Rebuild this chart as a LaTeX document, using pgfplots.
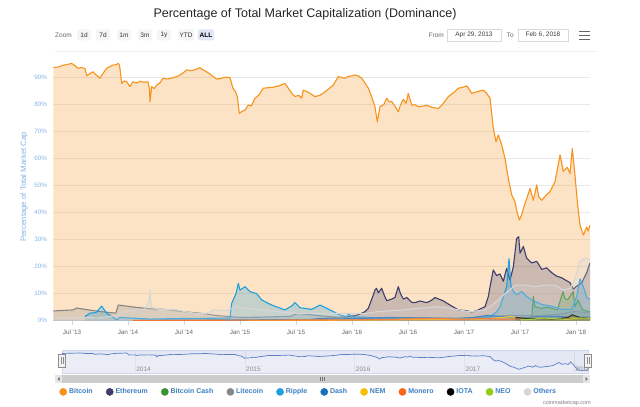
\documentclass[border=0pt]{standalone}
\usepackage{pgfplots}
\pgfplotsset{compat=1.18}
\usepackage{pgfplotstable}
\usepackage{fontspec}
\setmainfont{Liberation Sans}

\definecolor{cbtc}{HTML}{F7931A}
\definecolor{ceth}{HTML}{3E3F6E}
\definecolor{cbch}{HTML}{3C9232}
\definecolor{cltc}{HTML}{878787}
\definecolor{cxrp}{HTML}{1E9FE0}
\definecolor{cdash}{HTML}{1C6FB8}
\definecolor{cnem}{HTML}{F8BE00}
\definecolor{cxmr}{HTML}{FA6414}
\definecolor{ciota}{HTML}{000000}
\definecolor{cneo}{HTML}{96CC17}
\definecolor{coth}{HTML}{D6D6D6}
\definecolor{tickblue}{HTML}{86B4E6}
\definecolor{legblue}{HTML}{3D7FC1}
\definecolor{gridc}{HTML}{E9E9E9}
\definecolor{axisc}{HTML}{CCD6EB}
\definecolor{txtgray}{HTML}{666666}

% Bitcoin dominance, x = months since Jan 2013
\pgfplotstableread{
m v
4.0 93.8
4.6 94.0
5.0 94.6
5.4 94.8
5.97 95.3
6.3 94.5
6.64 93.5
7.0 93.8
7.39 93.4
7.58 90.7
7.9 91.5
8.25 92.2
8.6 91.0
9.0 89.8
9.3 91.5
9.72 93.5
10.0 94.0
10.39 94.7
10.7 94.8
10.96 95.3
11.1 94.5
11.33 87.9
11.6 88.8
11.86 88.5
12.21 86.7
12.54 88.5
12.9 88.0
13.29 88.7
13.7 88.3
14.14 88.5
14.3 86.0
14.36 81.1
14.54 86.7
14.8 86.0
15.08 87.3
15.4 88.0
15.75 89.8
16.2 89.5
16.82 90.0
17.3 90.5
17.8 91.5
18.29 92.9
18.8 92.6
19.2 93.0
19.71 93.7
20.0 93.0
20.43 92.2
20.9 91.0
21.5 89.5
22.0 89.8
22.5 90.2
22.93 90.0
23.25 86.1
23.5 85.0
23.71 83.0
23.93 76.8
24.2 77.5
24.54 78.0
24.89 79.9
25.2 79.5
25.61 82.4
26.0 83.5
26.5 86.1
27.0 86.3
27.57 86.5
28.2 87.0
28.82 87.9
29.2 86.0
29.6 84.0
29.89 83.0
30.3 83.5
30.61 82.4
30.78 85.4
31.1 85.0
31.5 84.2
32.04 83.0
32.57 83.5
33.2 85.0
34.0 87.3
34.53 90.4
35.0 90.0
35.25 89.8
35.6 90.5
35.97 90.7
36.3 91.0
36.68 90.7
37.04 89.8
37.4 88.0
37.75 86.1
38.1 83.0
38.46 79.3
38.71 73.7
39.0 79.3
39.4 80.0
39.72 82.4
40.0 81.0
40.25 81.2
40.6 79.5
40.96 77.4
41.2 80.0
41.5 82.0
41.8 80.5
42.03 84.2
42.4 79.8
42.8 80.0
43.1 79.2
43.6 79.5
44.0 79.8
44.6 79.0
45.25 78.6
45.8 80.5
46.32 83.0
46.9 84.5
47.39 86.1
47.9 86.5
48.29 87.0
48.6 85.5
48.83 84.2
49.4 84.8
50.07 85.4
50.43 84.2
50.79 82.4
51.14 71.3
51.43 66.3
51.68 68.8
52.04 65.1
52.39 60.1
52.75 52.7
53.11 46.6
53.46 44.1
53.7 40.0
53.93 37.3
54.2 39.5
54.36 41.6
54.7 45.0
55.07 49.0
55.43 44.6
55.79 50.3
56.0 46.0
56.33 44.6
56.8 46.5
57.21 47.8
57.75 51.5
58.0 56.0
58.29 61.4
58.64 55.3
59.07 56.8
59.36 54.5
59.6 63.8
59.89 53.9
60.14 44.1
60.43 35.4
60.79 31.7
61.0 33.5
61.15 34.7
61.3 33.2
61.5 35.4
}\tabbtc

\pgfplotstableread{
m v
31.2 0.3
32.5 0.8
34.0 1.0
35.5 1.5
36.5 2.0
37.39 3.3
37.75 4.6
38.28 9.5
38.46 11.4
38.64 12.0
38.82 10.3
39.18 12.0
39.45 9.5
39.72 7.4
40.25 8.0
40.61 8.6
40.96 12.6
41.2 10.0
41.5 8.0
41.86 8.6
42.4 6.8
42.75 6.7
43.29 7.3
44.0 6.7
44.5 7.5
44.89 8.6
45.3 8.0
45.75 7.4
46.5 5.8
47.39 4.0
48.29 3.7
48.8 3.2
49.36 3.7
50.25 5.2
50.61 9.0
50.79 12.6
51.14 18.8
51.5 16.7
51.86 17.3
52.21 14.6
52.57 19.4
52.93 15.0
53.29 20.0
53.64 30.5
53.86 31.1
54.0 25.0
54.36 27.5
54.71 23.2
55.25 21.4
55.79 22.0
56.33 19.0
56.86 19.6
57.39 17.8
57.93 16.5
58.46 15.9
59.0 14.8
59.36 14.1
59.71 11.7
60.07 12.8
60.61 14.0
61.15 17.8
61.5 21.4
}\tabeth

\pgfplotstableread{
m v
55.25 0.5
55.43 8.9
55.6 5.2
56.3 4.6
56.9 5.0
57.4 4.6
58.0 4.0
58.6 10.7
58.8 8.3
59.1 7.7
59.7 10.7
59.9 5.2
60.2 7.7
60.7 4.0
61.5 3.3
}\tabbch

\pgfplotstableread{
m v
4.0 3.6
6.14 4.0
6.5 4.7
7.39 4.2
9.0 3.4
10.7 2.8
10.96 5.8
11.68 5.5
12.75 5.0
14.36 4.4
15.96 4.2
18.1 3.3
19.7 2.8
21.3 2.0
22.9 1.5
24.0 1.2
26.1 1.3
29.4 1.6
30.2 2.7
31.5 2.2
33.6 1.5
35.8 1.0
41.1 0.8
47.6 0.8
50.8 1.5
52.9 2.0
56.1 1.8
58.3 2.5
59.9 3.5
61.5 2.8
}\tabltc

\pgfplotstableread{
m v
7.39 1.5
7.93 2.8
8.57 3.0
9.18 5.4
9.72 2.8
10.29 1.5
10.79 0.3
11.14 1.2
12.21 1.0
14.36 0.6
17.57 0.8
20.79 0.9
22.93 1.0
23.11 6.4
23.57 10.0
23.82 13.8
24.0 11.3
24.54 12.6
25.07 10.8
25.79 10.0
26.32 7.7
27.39 5.8
28.82 4.0
29.57 5.5
29.89 6.7
30.43 4.8
31.68 4.2
32.57 5.8
33.64 4.0
34.71 2.1
35.46 1.5
35.61 2.7
36.0 1.5
39.0 1.0
44.36 1.0
48.64 0.8
50.79 1.5
51.5 3.3
51.86 5.1
52.57 12.6
52.82 23.0
53.04 12.6
53.29 10.8
53.64 9.6
54.18 10.8
54.71 9.0
55.25 7.7
56.33 6.0
57.39 5.4
58.46 4.2
59.54 4.2
60.07 9.0
60.43 15.5
60.79 12.6
61.15 8.5
61.5 7.9
}\tabxrp

\pgfplotstableread{
m v
13.0 0.1
18.0 0.2
24.0 0.3
30.0 0.4
34.0 0.6
36.0 0.8
40.0 1.2
44.0 1.0
47.0 0.8
49.0 1.2
50.5 2.0
52.0 1.5
54.0 1.0
56.0 1.5
58.0 1.6
59.5 1.2
61.5 1.3
}\tabdash

\pgfplotstableread{
m v
25.0 0.1
36.0 0.2
42.0 0.4
46.0 0.5
50.0 0.6
51.5 1.0
53.0 1.5
54.0 1.0
56.0 0.8
58.0 0.6
59.7 1.2
61.5 0.6
}\tabnem

\pgfplotstableread{
m v
12.5 0.1
24.0 0.2
36.0 0.3
40.0 0.5
43.0 0.8
45.0 0.9
48.0 0.5
50.0 0.9
52.0 0.5
54.0 0.7
56.0 0.9
58.0 0.8
60.0 0.8
61.5 0.8
}\tabxmr

\pgfplotstableread{
m v
53.5 1.2
54.5 0.9
56.0 0.7
58.0 0.6
59.2 1.3
59.6 2.2
60.2 1.4
61.5 0.7
}\tabiota

\pgfplotstableread{
m v
54.0 0.3
55.5 0.6
56.5 1.0
57.5 0.8
59.0 0.5
60.5 1.0
61.5 0.9
}\tabneo

\pgfplotstableread{
m v
4.0 1.0
6.9 1.2
9.0 1.0
10.9 2.0
11.7 3.5
12.75 3.8
13.8 4.2
14.25 7.0
14.36 11.4
14.5 5.0
15.4 4.1
17.25 4.0
18.6 3.0
20.25 2.5
21.3 4.0
22.4 3.7
23.6 5.2
25.25 4.5
27.4 3.5
30.4 2.7
33.6 2.7
37.6 2.7
38.8 3.4
41.5 4.0
43.3 4.6
45.1 5.2
46.5 4.6
48.6 3.3
50.25 4.0
51.3 6.5
52.4 10.0
53.5 13.2
54.5 13.2
55.6 12.6
56.7 13.2
57.75 13.2
58.6 11.4
59.4 12.0
59.9 15.7
60.4 21.9
61.0 23.2
61.5 22.5
}\taboth

\newcommand{\series}[2]{%
  \addplot[draw=none, fill=#2, fill opacity=0.25, forget plot] table[x=m,y=v] {#1} \closedcycle;
  \addplot[#2, line width=1.1pt, line join=round, forget plot] table[x=m,y=v] {#1};
}

\begin{document}
\begin{tikzpicture}[x=1pt,y=1pt]
\path[use as bounding box, fill=white] (0,0) rectangle (640,407);

% title
\node[font=\fontsize{12.5}{15}\selectfont, text=black!85] at (305,393) {Percentage of Total Market Capitalization (Dominance)};

% range selector
\begin{scope}[font=\fontsize{6.5}{8}\selectfont]
\node[text=txtgray, anchor=west, inner sep=0pt] at (55,372) {Zoom};
\foreach \lab/\cx in {1d/84,7d/103,1m/124,3m/145,1y/164,YTD/186}{
  \node[fill=black!4, rounded corners=1.5pt, minimum height=11pt, minimum width=14pt, inner sep=1.5pt, text=black!80] at (\cx,372) {\lab};
}
\node[fill=axisc!60, rounded corners=1.5pt, minimum height=11pt, minimum width=16pt, inner sep=1.5pt, text=black, font=\fontsize{6.5}{8}\selectfont\bfseries] at (206,372) {ALL};
\node[text=txtgray, anchor=east, inner sep=0pt] at (444,372) {From};
\node[draw=black!15, minimum height=12pt, minimum width=54pt, inner sep=1pt, text=black!75] at (474,372) {Apr 29, 2013};
\node[text=txtgray, anchor=east, inner sep=0pt] at (514,372) {To};
\node[draw=black!15, minimum height=12pt, minimum width=50pt, inner sep=1pt, text=black!75] at (543,372) {Feb 6, 2018};
\end{scope}
\foreach \yy in {367.5,371.5,375.5}{\draw[txtgray, line width=1.4pt] (579,\yy) -- (590,\yy);}
\draw[black!6] (55,356) -- (596,356);

% main chart
\begin{axis}[
  at={(53.3pt,86.3pt)}, anchor=south west, scale only axis,
  width=536.7pt, height=262.7pt,
  xmin=4, xmax=61.5, ymin=0, ymax=97.3,
  axis lines*=left,
  y axis line style={draw=none},
  x axis line style={draw=axisc, line width=0.8pt},
  ymajorgrids, grid style={gridc, line width=0.6pt},
  ytick={0,10,...,90},
  yticklabels={0\%,10\%,20\%,30\%,40\%,50\%,60\%,70\%,80\%,90\%},
  xtick={6,12,...,60},
  xticklabels={Jul '13,Jan '14,Jul '14,Jan '15,Jul '15,Jan '16,Jul '16,Jan '17,Jul '17,Jan '18},
  tick align=outside, xtick pos=bottom, ytick pos=left,
  major tick length=4pt,
  xtick style={draw=axisc, line width=0.6pt},
  ytick style={draw=none},
  yticklabel style={font=\fontsize{6.3}{7}\selectfont, text=tickblue, inner sep=0pt, xshift=-2pt},
  xticklabel style={font=\fontsize{6.3}{7}\selectfont, text=txtgray, inner sep=0pt, yshift=-5pt},
  ylabel={Percentage of Total Market Cap},
  ylabel style={at={(axis description cs:-0.0546,0.51)}, anchor=center, font=\fontsize{7.8}{9}\selectfont, text=tickblue},
  legend columns=11,
  legend style={at={(0.4758,-0.271)}, anchor=center, draw=none, fill=none,
    font=\fontsize{7}{8}\selectfont\bfseries, text=legblue,
    /tikz/every even column/.append style={column sep=11.2pt}},
  legend image code/.code={\fill[#1] (3.5pt,0pt) circle (3.6pt);},
]
\series{\tabbtc}{cbtc}
\series{\tabeth}{ceth}
\series{\tabbch}{cbch}
\series{\tabltc}{cltc}
\series{\tabxrp}{cxrp}
\series{\tabdash}{cdash}
\series{\tabnem}{cnem}
\series{\tabxmr}{cxmr}
\series{\tabiota}{ciota}
\series{\tabneo}{cneo}
\series{\taboth}{coth}
\addlegendimage{cbtc}\addlegendentry{Bitcoin}
\addlegendimage{ceth}\addlegendentry{Ethereum}
\addlegendimage{cbch}\addlegendentry{Bitcoin Cash}
\addlegendimage{cltc}\addlegendentry{Litecoin}
\addlegendimage{cxrp}\addlegendentry{Ripple}
\addlegendimage{cdash}\addlegendentry{Dash}
\addlegendimage{cnem}\addlegendentry{NEM}
\addlegendimage{cxmr}\addlegendentry{Monero}
\addlegendimage{ciota}\addlegendentry{IOTA}
\addlegendimage{cneo}\addlegendentry{NEO}
\addlegendimage{coth}\addlegendentry{Others}
\end{axis}

% navigator
\begin{axis}[
  at={(62pt,34pt)}, anchor=south west, scale only axis,
  width=526pt, height=23pt,
  xmin=4, xmax=61.5, ymin=24, ymax=106,
  axis line style={draw=axisc},
  axis background/.style={fill=axisc!55},
  xtick={12,24,36,48,60}, xticklabels={}, ytick=\empty,
  xmajorgrids, grid style={draw=black!15, line width=0.5pt},
  major tick length=0pt,
]
\addplot[draw=none, fill=white, fill opacity=0.25] table[x=m,y=v] {\tabbtc} \closedcycle;
\addplot[color={rgb,255:red,90;green,125;blue,200}, line width=0.7pt] table[x=m,y=v] {\tabbtc};
\foreach \yr/\mm in {2014/12,2015/24,2016/36,2017/48,2018/60}{
  \edef\tmp{\noexpand\node[anchor=south west, inner sep=1pt, font=\noexpand\fontsize{6.5}{8}\noexpand\selectfont, text=black!45] at (axis cs:\mm,24) {\yr};}\tmp
}
\end{axis}
% handles
\foreach \hx in {62,588}{
  \draw[fill=black!5, draw=black!45, line width=0.5pt] (\hx-3.5,39.5) rectangle (\hx+3.5,52.5);
  \draw[black!45, line width=0.4pt] (\hx-1,42.5) -- (\hx-1,49.5) (\hx+1,42.5) -- (\hx+1,49.5);
}
% scrollbar
\fill[black!5] (55,24) rectangle (590,32);
\fill[black!20] (62,24) rectangle (583,32);
\fill[black!10] (55,24) rectangle (62,32);
\fill[black!10] (583,24) rectangle (590,32);
\fill[black!60] (57.5,28) -- (59.5,30) -- (59.5,26) -- cycle;
\fill[black!60] (587.5,28) -- (585.5,30) -- (585.5,26) -- cycle;
\draw[black!55, line width=0.4pt] (320.5,26) -- (320.5,30) (322.5,26) -- (322.5,30) (324.5,26) -- (324.5,30);

% credits
\node[anchor=east, font=\fontsize{5.5}{6}\selectfont, text=black!50, inner sep=0pt] at (591,4) {coinmarketcap.com};
\end{tikzpicture}
\end{document}
